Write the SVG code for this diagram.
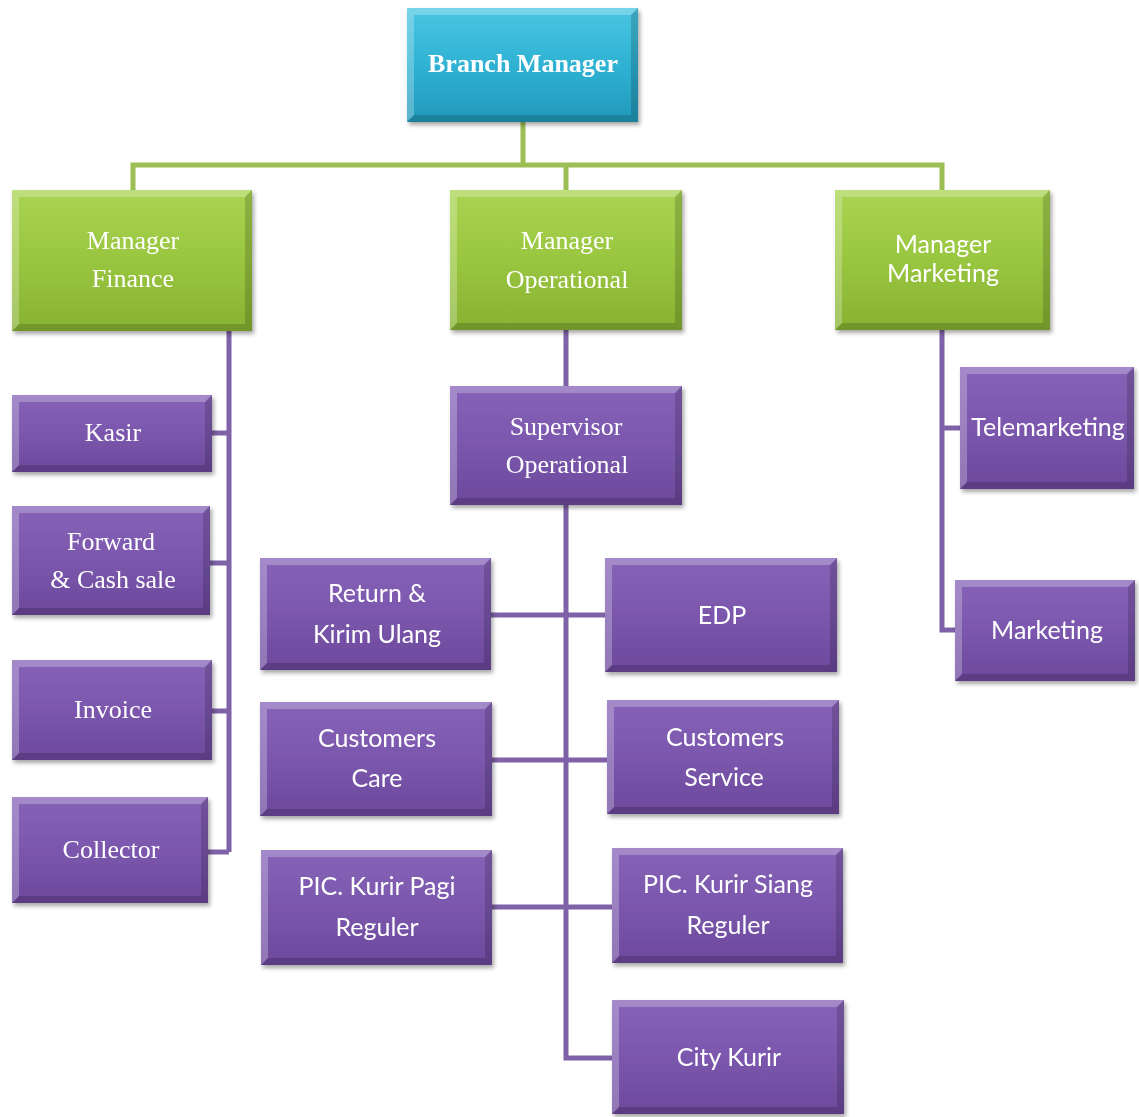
<svg xmlns="http://www.w3.org/2000/svg" width="1139" height="1117" viewBox="0 0 1139 1117">
<style>
.lt{fill:#ffffff;opacity:0.25}
.dk{fill:#000000;opacity:0.16}
.serif{font-family:"Liberation Serif","DejaVu Serif",serif;font-size:26px;fill:#ffffff;text-anchor:middle}
.sans{font-family:Lato,"Open Sans","Liberation Sans",sans-serif;font-size:25px;fill:#ffffff;text-anchor:middle}
.bold{font-weight:bold;font-size:26px}
.gl{fill:none;stroke:#9bbf52;stroke-width:5}
.pl{fill:none;stroke:#7f61a8;stroke-width:5}
</style>
<defs>
<linearGradient id="gB" x1="0" y1="0" x2="0" y2="1"><stop offset="0" stop-color="#4ac6e2"/><stop offset="0.5" stop-color="#2fb2d3"/><stop offset="1" stop-color="#2299bb"/></linearGradient>
<linearGradient id="gG" x1="0" y1="0" x2="0" y2="1"><stop offset="0" stop-color="#a9d452"/><stop offset="0.5" stop-color="#99c640"/><stop offset="1" stop-color="#87b232"/></linearGradient>
<linearGradient id="gP" x1="0" y1="0" x2="0" y2="1"><stop offset="0" stop-color="#8663b7"/><stop offset="0.5" stop-color="#7b57ad"/><stop offset="1" stop-color="#6c499b"/></linearGradient>
<filter id="sh" x="-10%" y="-10%" width="125%" height="130%"><feDropShadow dx="2" dy="3" stdDeviation="2" flood-color="#000" flood-opacity="0.35"/></filter>
</defs>
<rect width="1139" height="1117" fill="#ffffff"/>
<g id="connectors">
<path class="gl" d="M523 122 V165 M133 190 V165 H942 V190 M566 165 V190"/>
<path class="pl" d="M229 331 V852 M212 433 H229 M210 563 H229 M212 711 H229 M208 852 H229"/>
<path class="pl" d="M566 330 V386 M566 505 V1058 H612 M491 615 H605 M492 760 H607 M492 907 H612"/>
<path class="pl" d="M942 330 V630 H955 M942 428 H960"/>
</g>
<g id="branch-manager" filter="url(#sh)">
<rect x="407" y="8" width="231" height="114" fill="url(#gB)"/>
<path class="lt" d="M407 8 H638 L631 15 H414 V115 L407 122 Z"/>
<path class="dk" d="M638 122 H407 L414 115 H631 V15 L638 8 Z"/>
<text class="serif bold" x="523" y="72">Branch Manager</text>
</g>
<g id="manager-finance" filter="url(#sh)">
<rect x="12" y="190" width="240" height="141" fill="url(#gG)"/>
<path class="lt" d="M12 190 H252 L245 197 H19 V324 L12 331 Z"/>
<path class="dk" d="M252 331 H12 L19 324 H245 V197 L252 190 Z"/>
<text class="serif" x="133" y="249">Manager</text>
<text class="serif" x="133" y="287">Finance</text>
</g>
<g id="manager-operational" filter="url(#sh)">
<rect x="450" y="190" width="232" height="140" fill="url(#gG)"/>
<path class="lt" d="M450 190 H682 L675 197 H457 V323 L450 330 Z"/>
<path class="dk" d="M682 330 H450 L457 323 H675 V197 L682 190 Z"/>
<text class="serif" x="567" y="249">Manager</text>
<text class="serif" x="567" y="288">Operational</text>
</g>
<g id="manager-marketing" filter="url(#sh)">
<rect x="835" y="190" width="215" height="140" fill="url(#gG)"/>
<path class="lt" d="M835 190 H1050 L1043 197 H842 V323 L835 330 Z"/>
<path class="dk" d="M1050 330 H835 L842 323 H1043 V197 L1050 190 Z"/>
<text class="sans" x="943" y="253">Manager</text>
<text class="sans" x="943" y="282">Marketing</text>
</g>
<g id="kasir" filter="url(#sh)">
<rect x="12" y="395" width="200" height="77" fill="url(#gP)"/>
<path class="lt" d="M12 395 H212 L205 402 H19 V465 L12 472 Z"/>
<path class="dk" d="M212 472 H12 L19 465 H205 V402 L212 395 Z"/>
<text class="serif" x="113" y="441">Kasir</text>
</g>
<g id="forward-cash-sale" filter="url(#sh)">
<rect x="12" y="506" width="198" height="109" fill="url(#gP)"/>
<path class="lt" d="M12 506 H210 L203 513 H19 V608 L12 615 Z"/>
<path class="dk" d="M210 615 H12 L19 608 H203 V513 L210 506 Z"/>
<text class="serif" x="111" y="550">Forward</text>
<text class="serif" x="113" y="588">&amp; Cash sale</text>
</g>
<g id="invoice" filter="url(#sh)">
<rect x="12" y="660" width="200" height="100" fill="url(#gP)"/>
<path class="lt" d="M12 660 H212 L205 667 H19 V753 L12 760 Z"/>
<path class="dk" d="M212 760 H12 L19 753 H205 V667 L212 660 Z"/>
<text class="serif" x="113" y="718">Invoice</text>
</g>
<g id="collector" filter="url(#sh)">
<rect x="12" y="797" width="196" height="106" fill="url(#gP)"/>
<path class="lt" d="M12 797 H208 L201 804 H19 V896 L12 903 Z"/>
<path class="dk" d="M208 903 H12 L19 896 H201 V804 L208 797 Z"/>
<text class="serif" x="111" y="858">Collector</text>
</g>
<g id="supervisor-operational" filter="url(#sh)">
<rect x="450" y="386" width="232" height="119" fill="url(#gP)"/>
<path class="lt" d="M450 386 H682 L675 393 H457 V498 L450 505 Z"/>
<path class="dk" d="M682 505 H450 L457 498 H675 V393 L682 386 Z"/>
<text class="serif" x="566" y="435">Supervisor</text>
<text class="serif" x="567" y="473">Operational</text>
</g>
<g id="return-kirim-ulang" filter="url(#sh)">
<rect x="260" y="558" width="231" height="112" fill="url(#gP)"/>
<path class="lt" d="M260 558 H491 L484 565 H267 V663 L260 670 Z"/>
<path class="dk" d="M491 670 H260 L267 663 H484 V565 L491 558 Z"/>
<text class="sans" x="377" y="602">Return &amp;</text>
<text class="sans" x="377" y="643">Kirim Ulang</text>
</g>
<g id="edp" filter="url(#sh)">
<rect x="605" y="558" width="232" height="114" fill="url(#gP)"/>
<path class="lt" d="M605 558 H837 L830 565 H612 V665 L605 672 Z"/>
<path class="dk" d="M837 672 H605 L612 665 H830 V565 L837 558 Z"/>
<text class="sans" x="722" y="624">EDP</text>
</g>
<g id="customers-care" filter="url(#sh)">
<rect x="260" y="702" width="232" height="114" fill="url(#gP)"/>
<path class="lt" d="M260 702 H492 L485 709 H267 V809 L260 816 Z"/>
<path class="dk" d="M492 816 H260 L267 809 H485 V709 L492 702 Z"/>
<text class="sans" x="377" y="747">Customers</text>
<text class="sans" x="377" y="787">Care</text>
</g>
<g id="customers-service" filter="url(#sh)">
<rect x="607" y="700" width="232" height="114" fill="url(#gP)"/>
<path class="lt" d="M607 700 H839 L832 707 H614 V807 L607 814 Z"/>
<path class="dk" d="M839 814 H607 L614 807 H832 V707 L839 700 Z"/>
<text class="sans" x="725" y="746">Customers</text>
<text class="sans" x="724" y="786">Service</text>
</g>
<g id="pic-kurir-pagi" filter="url(#sh)">
<rect x="261" y="850" width="231" height="115" fill="url(#gP)"/>
<path class="lt" d="M261 850 H492 L485 857 H268 V958 L261 965 Z"/>
<path class="dk" d="M492 965 H261 L268 958 H485 V857 L492 850 Z"/>
<text class="sans" x="377" y="895">PIC. Kurir Pagi</text>
<text class="sans" x="377" y="936">Reguler</text>
</g>
<g id="pic-kurir-siang" filter="url(#sh)">
<rect x="612" y="848" width="231" height="115" fill="url(#gP)"/>
<path class="lt" d="M612 848 H843 L836 855 H619 V956 L612 963 Z"/>
<path class="dk" d="M843 963 H612 L619 956 H836 V855 L843 848 Z"/>
<text class="sans" x="728" y="893">PIC. Kurir Siang</text>
<text class="sans" x="728" y="934">Reguler</text>
</g>
<g id="city-kurir" filter="url(#sh)">
<rect x="612" y="1000" width="232" height="114" fill="url(#gP)"/>
<path class="lt" d="M612 1000 H844 L837 1007 H619 V1107 L612 1114 Z"/>
<path class="dk" d="M844 1114 H612 L619 1107 H837 V1007 L844 1000 Z"/>
<text class="sans" x="729" y="1066">City Kurir</text>
</g>
<g id="telemarketing" filter="url(#sh)">
<rect x="960" y="367" width="174" height="122" fill="url(#gP)"/>
<path class="lt" d="M960 367 H1134 L1127 374 H967 V482 L960 489 Z"/>
<path class="dk" d="M1134 489 H960 L967 482 H1127 V374 L1134 367 Z"/>
<text class="sans" x="1048" y="436">Telemarketing</text>
</g>
<g id="marketing" filter="url(#sh)">
<rect x="955" y="580" width="180" height="101" fill="url(#gP)"/>
<path class="lt" d="M955 580 H1135 L1128 587 H962 V674 L955 681 Z"/>
<path class="dk" d="M1135 681 H955 L962 674 H1128 V587 L1135 580 Z"/>
<text class="sans" x="1047" y="639">Marketing</text>
</g>
</svg>
